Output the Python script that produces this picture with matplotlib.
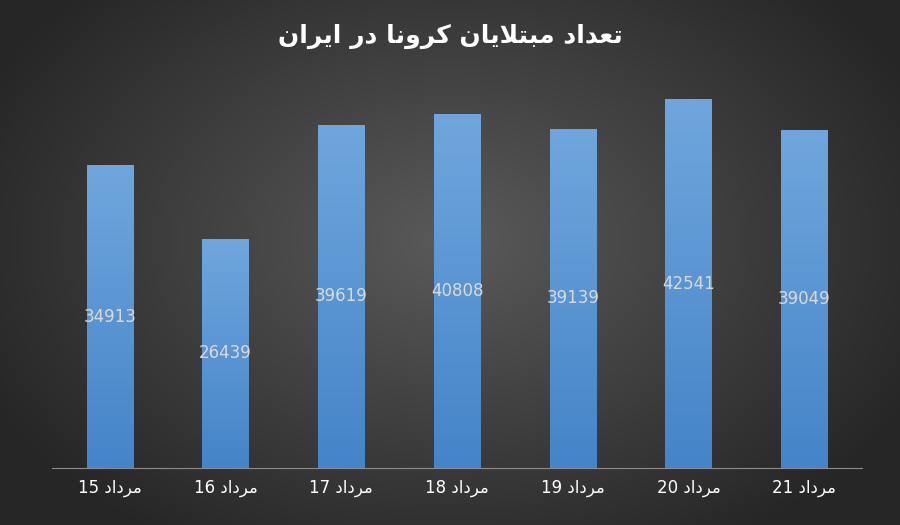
import numpy as np
import matplotlib
matplotlib.use("Agg")
import matplotlib.pyplot as plt

# ---- minimal Arabic/Persian shaping (presentation forms) ----
FORMS = {  # iso, fin, ini, med
    'ت': ('\uFE95', '\uFE96', '\uFE97', '\uFE98'),
    'ع': ('\uFEC9', '\uFECA', '\uFECB', '\uFECC'),
    'د': ('\uFEA9', '\uFEAA', None, None),
    'ا': ('\uFE8D', '\uFE8E', None, None),
    'م': ('\uFEE1', '\uFEE2', '\uFEE3', '\uFEE4'),
    'ب': ('\uFE8F', '\uFE90', '\uFE91', '\uFE92'),
    'ل': ('\uFEDD', '\uFEDE', '\uFEDF', '\uFEE0'),
    'ی': ('\uFBFC', '\uFBFD', '\uFBFE', '\uFBFF'),
    'ن': ('\uFEE5', '\uFEE6', '\uFEE7', '\uFEE8'),
    'ک': ('\uFB8E', '\uFB8F', '\uFB90', '\uFB91'),
    'ر': ('\uFEAD', '\uFEAE', None, None),
    'و': ('\uFEED', '\uFEEE', None, None),
}

def shape_word(w):
    chars = list(w)
    out = []
    i = 0
    while i < len(chars):
        c = chars[i]
        prev_joins = i > 0 and FORMS[chars[i-1]][2] is not None
        if c == 'ل' and i + 1 < len(chars) and chars[i+1] == 'ا':
            out.append('\uFEFC' if prev_joins else '\uFEFB')
            i += 2
            continue
        f = FORMS[c]
        next_exists = i + 1 < len(chars)
        can_join_next = f[2] is not None and next_exists
        if prev_joins and can_join_next:
            out.append(f[3])
        elif prev_joins:
            out.append(f[1])
        elif can_join_next:
            out.append(f[2])
        else:
            out.append(f[0])
        i += 1
    return ''.join(out)

def rtl(s):
    words = [shape_word(w)[::-1] for w in s.split(' ')]
    return ' '.join(reversed(words))

# ---- data ----
days = ['15', '16', '17', '18', '19', '20', '21']
month = 'مرداد'
values = [34913, 26439, 39619, 40808, 39139, 42541, 39049]
title = 'تعداد مبتلایان کرونا در ایران'

fig = plt.figure(figsize=(9, 5.25), dpi=100)

# background radial gradient
bg = fig.add_axes([0, 0, 1, 1])
yy, xx = np.mgrid[0:525, 0:900]
r = np.sqrt(((xx - 450) / 520.0) ** 2 + ((yy - 240) / 360.0) ** 2)
r = np.clip(r, 0, 1)
c0 = np.array([0x5a, 0x5a, 0x5a]) / 255
c1 = np.array([0x26, 0x26, 0x26]) / 255
img = c0[None, None, :] * (1 - r[..., None]) + c1[None, None, :] * r[..., None]
bg.imshow(img, aspect='auto', extent=[0, 1, 0, 1])
bg.axis('off')

ax = fig.add_axes([52/900, (525-468)/525, 810/900, (468-78)/525])
ax.patch.set_alpha(0)
x = np.arange(len(values))
bars = ax.bar(x, values, width=0.4, color='none', edgecolor='none')
ax.set_xlim(-0.5, len(values) - 0.5)
ax.set_ylim(0, 45000)

grad = np.linspace(0, 1, 256)[:, None]
top = np.array([0x70, 0xa6, 0xdd]) / 255
bot = np.array([0x44, 0x84, 0xc8]) / 255
gimg = bot[None, None, :] * (1 - grad[..., None]) + top[None, None, :] * grad[..., None]
for b, v in zip(bars, values):
    xb = b.get_x()
    im = ax.imshow(gimg, aspect='auto', extent=[xb, xb + b.get_width(), 0, v],
                   origin='lower', zorder=2)
    im.set_clip_path(b)
    ax.text(b.get_x() + b.get_width()/2, v/2, str(v), ha='center', va='center',
            color='#d9d9d9', fontsize=12, zorder=3)
ax.set_xlim(-0.5, len(values) - 0.5)
ax.set_ylim(0, 45000)

for s in ['top', 'right', 'left']:
    ax.spines[s].set_visible(False)
ax.spines['bottom'].set_color('#8c8c8c')
ax.set_yticks([])
ax.set_xticks(x)
ax.set_xticklabels([d + ' ' + rtl(month) for d in days], color='white', fontsize=12,
                   family='DejaVu Sans')
ax.tick_params(axis='x', length=0, pad=8)

fig.text(0.5, 0.93, rtl(title), ha='center', va='center', color='white',
         fontsize=18, fontweight='bold', family='DejaVu Sans')

fig.savefig('out.png', dpi=100)
